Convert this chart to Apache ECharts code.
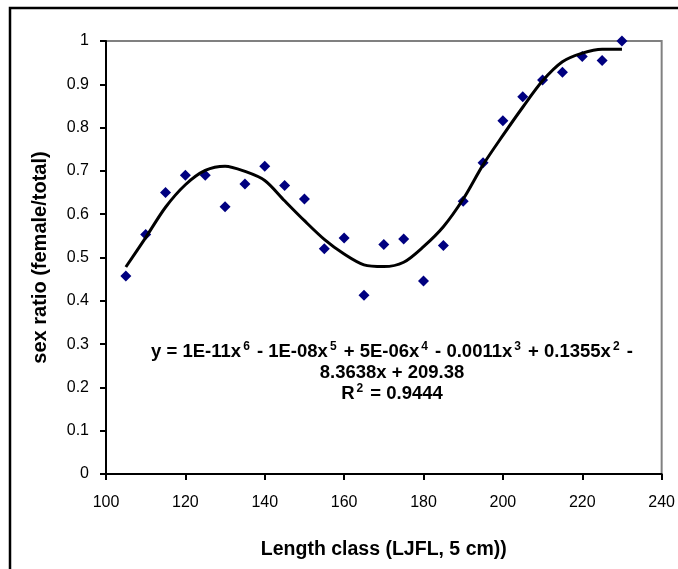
<!DOCTYPE html>
<html lang="en">
<head>
    <meta charset="UTF-8">
    <title>sex ratio by length class</title>
    <style>
        html, body {
            margin: 0;
            padding: 0;
            background: #ffffff;
        }
        #chart {
            width: 678px;
            height: 569px;
        }
    </style>
    <script src="https://cdn.jsdelivr.net/npm/echarts@6/dist/echarts.min.js"></script>
</head>
<body>
    <div id="chart"></div>

    <script>
        // length classes (LJFL, 5 cm)
        var lengthClass = [105, 110, 115, 120, 125, 130, 135, 140, 145, 150, 155, 160, 165,
                           170, 175, 180, 185, 190, 195, 200, 205, 210, 215, 220, 225, 230];

        // observed sex ratio (female/total)
        var sexRatio = [0.457, 0.553, 0.650, 0.690, 0.690, 0.617, 0.670, 0.711, 0.666, 0.635, 0.520, 0.545, 0.413,
                        0.530, 0.543, 0.446, 0.528, 0.630, 0.719, 0.816, 0.871, 0.910, 0.928, 0.964, 0.955, 1.000];

        // polynomial trendline
        var trendRatio = [0.478, 0.546, 0.616, 0.668, 0.701, 0.711, 0.699, 0.678, 0.631, 0.585, 0.542, 0.508, 0.483,
                          0.479, 0.489, 0.525, 0.571, 0.635, 0.714, 0.782, 0.847, 0.908, 0.952, 0.972, 0.981, 0.981];

        var xTicks = [100, 240, 20];   // min, max, step
        var yTicks = [0, 1, 0.1];

        var eqLines = [
            '{n|y = 1E-11x}{s|6}{n| - 1E-08x}{s|5}{n| + 5E-06x}{s|4}{n| - 0.0011x}{s|3}{n| + 0.1355x}{s|2}{n| -}',
            '{n|8.3638x + 209.38}',
            '{n|R}{s|2}{n| = 0.9444}'
        ];

        var font = 'Liberation Sans, Arial, sans-serif';

        var chart = echarts.init(document.getElementById('chart'));

        var points = lengthClass.map(function (x, i) { return [x, sexRatio[i]]; });
        var trend = lengthClass.map(function (x, i) { return [x, trendRatio[i]]; });

        var option = {
            animation: false,
            backgroundColor: '#ffffff',
            grid: {
                left: 106,
                top: 41,
                right: 16,
                bottom: 95,
                show: true,
                borderColor: '#808080',
                borderWidth: 2
            },
            xAxis: {
                type: 'value',
                min: xTicks[0],
                max: xTicks[1],
                interval: xTicks[2],
                name: 'Length class (LJFL, 5 cm))',
                nameLocation: 'middle',
                nameGap: 66,
                nameTextStyle: { fontFamily: font, fontSize: 19.5, fontWeight: 'bold', color: '#000' },
                axisLine: { show: true, onZero: false, lineStyle: { color: '#000', width: 2 } },
                axisTick: { show: true, length: 6, lineStyle: { color: '#000', width: 2 } },
                axisLabel: { margin: 21, fontFamily: font, fontSize: 16, color: '#000' },
                splitLine: { show: false }
            },
            yAxis: {
                type: 'value',
                min: yTicks[0],
                max: yTicks[1],
                interval: yTicks[2],
                name: 'sex ratio (female/total)',
                nameLocation: 'middle',
                nameGap: 56,
                nameTextStyle: { fontFamily: font, fontSize: 20, fontWeight: 'bold', color: '#000' },
                axisLine: { show: true, onZero: false, lineStyle: { color: '#000', width: 2 } },
                axisTick: { show: true, length: 6, lineStyle: { color: '#000', width: 2 } },
                axisLabel: { margin: 17, fontFamily: font, fontSize: 16, color: '#000' },
                splitLine: { show: false }
            },
            graphic: [
                {
                    type: 'rect',
                    z: -10,
                    shape: { x: 10, y: 8, width: 720, height: 620 },
                    style: { fill: null, stroke: '#000', lineWidth: 2.5 }
                },
                {
                    type: 'text',
                    x: 392,
                    y: 341,
                    z: 100,
                    style: {
                        text: eqLines.join('\n'),
                        align: 'center',
                        verticalAlign: 'top',
                        rich: {
                            n: { fontFamily: font, fontSize: 18.5, fontWeight: 'bold', fill: '#000', lineHeight: 21 },
                            s: { fontFamily: font, fontSize: 12, fontWeight: 'bold', fill: '#000', lineHeight: 21,
                                 verticalAlign: 'top', padding: [0, 2, 0, 2] }
                        }
                    }
                }
            ],
            series: [
                {
                    name: 'sex ratio',
                    type: 'scatter',
                    data: points,
                    symbol: 'diamond',
                    symbolSize: 11,
                    itemStyle: { color: '#000080', opacity: 1 },
                    z: 2
                },
                {
                    name: 'trend',
                    type: 'line',
                    data: trend,
                    showSymbol: false,
                    smooth: 0.3,
                    lineStyle: { color: '#000', width: 3 },
                    z: 3
                }
            ]
        };

        chart.setOption(option);
    </script>
</body>
</html>
